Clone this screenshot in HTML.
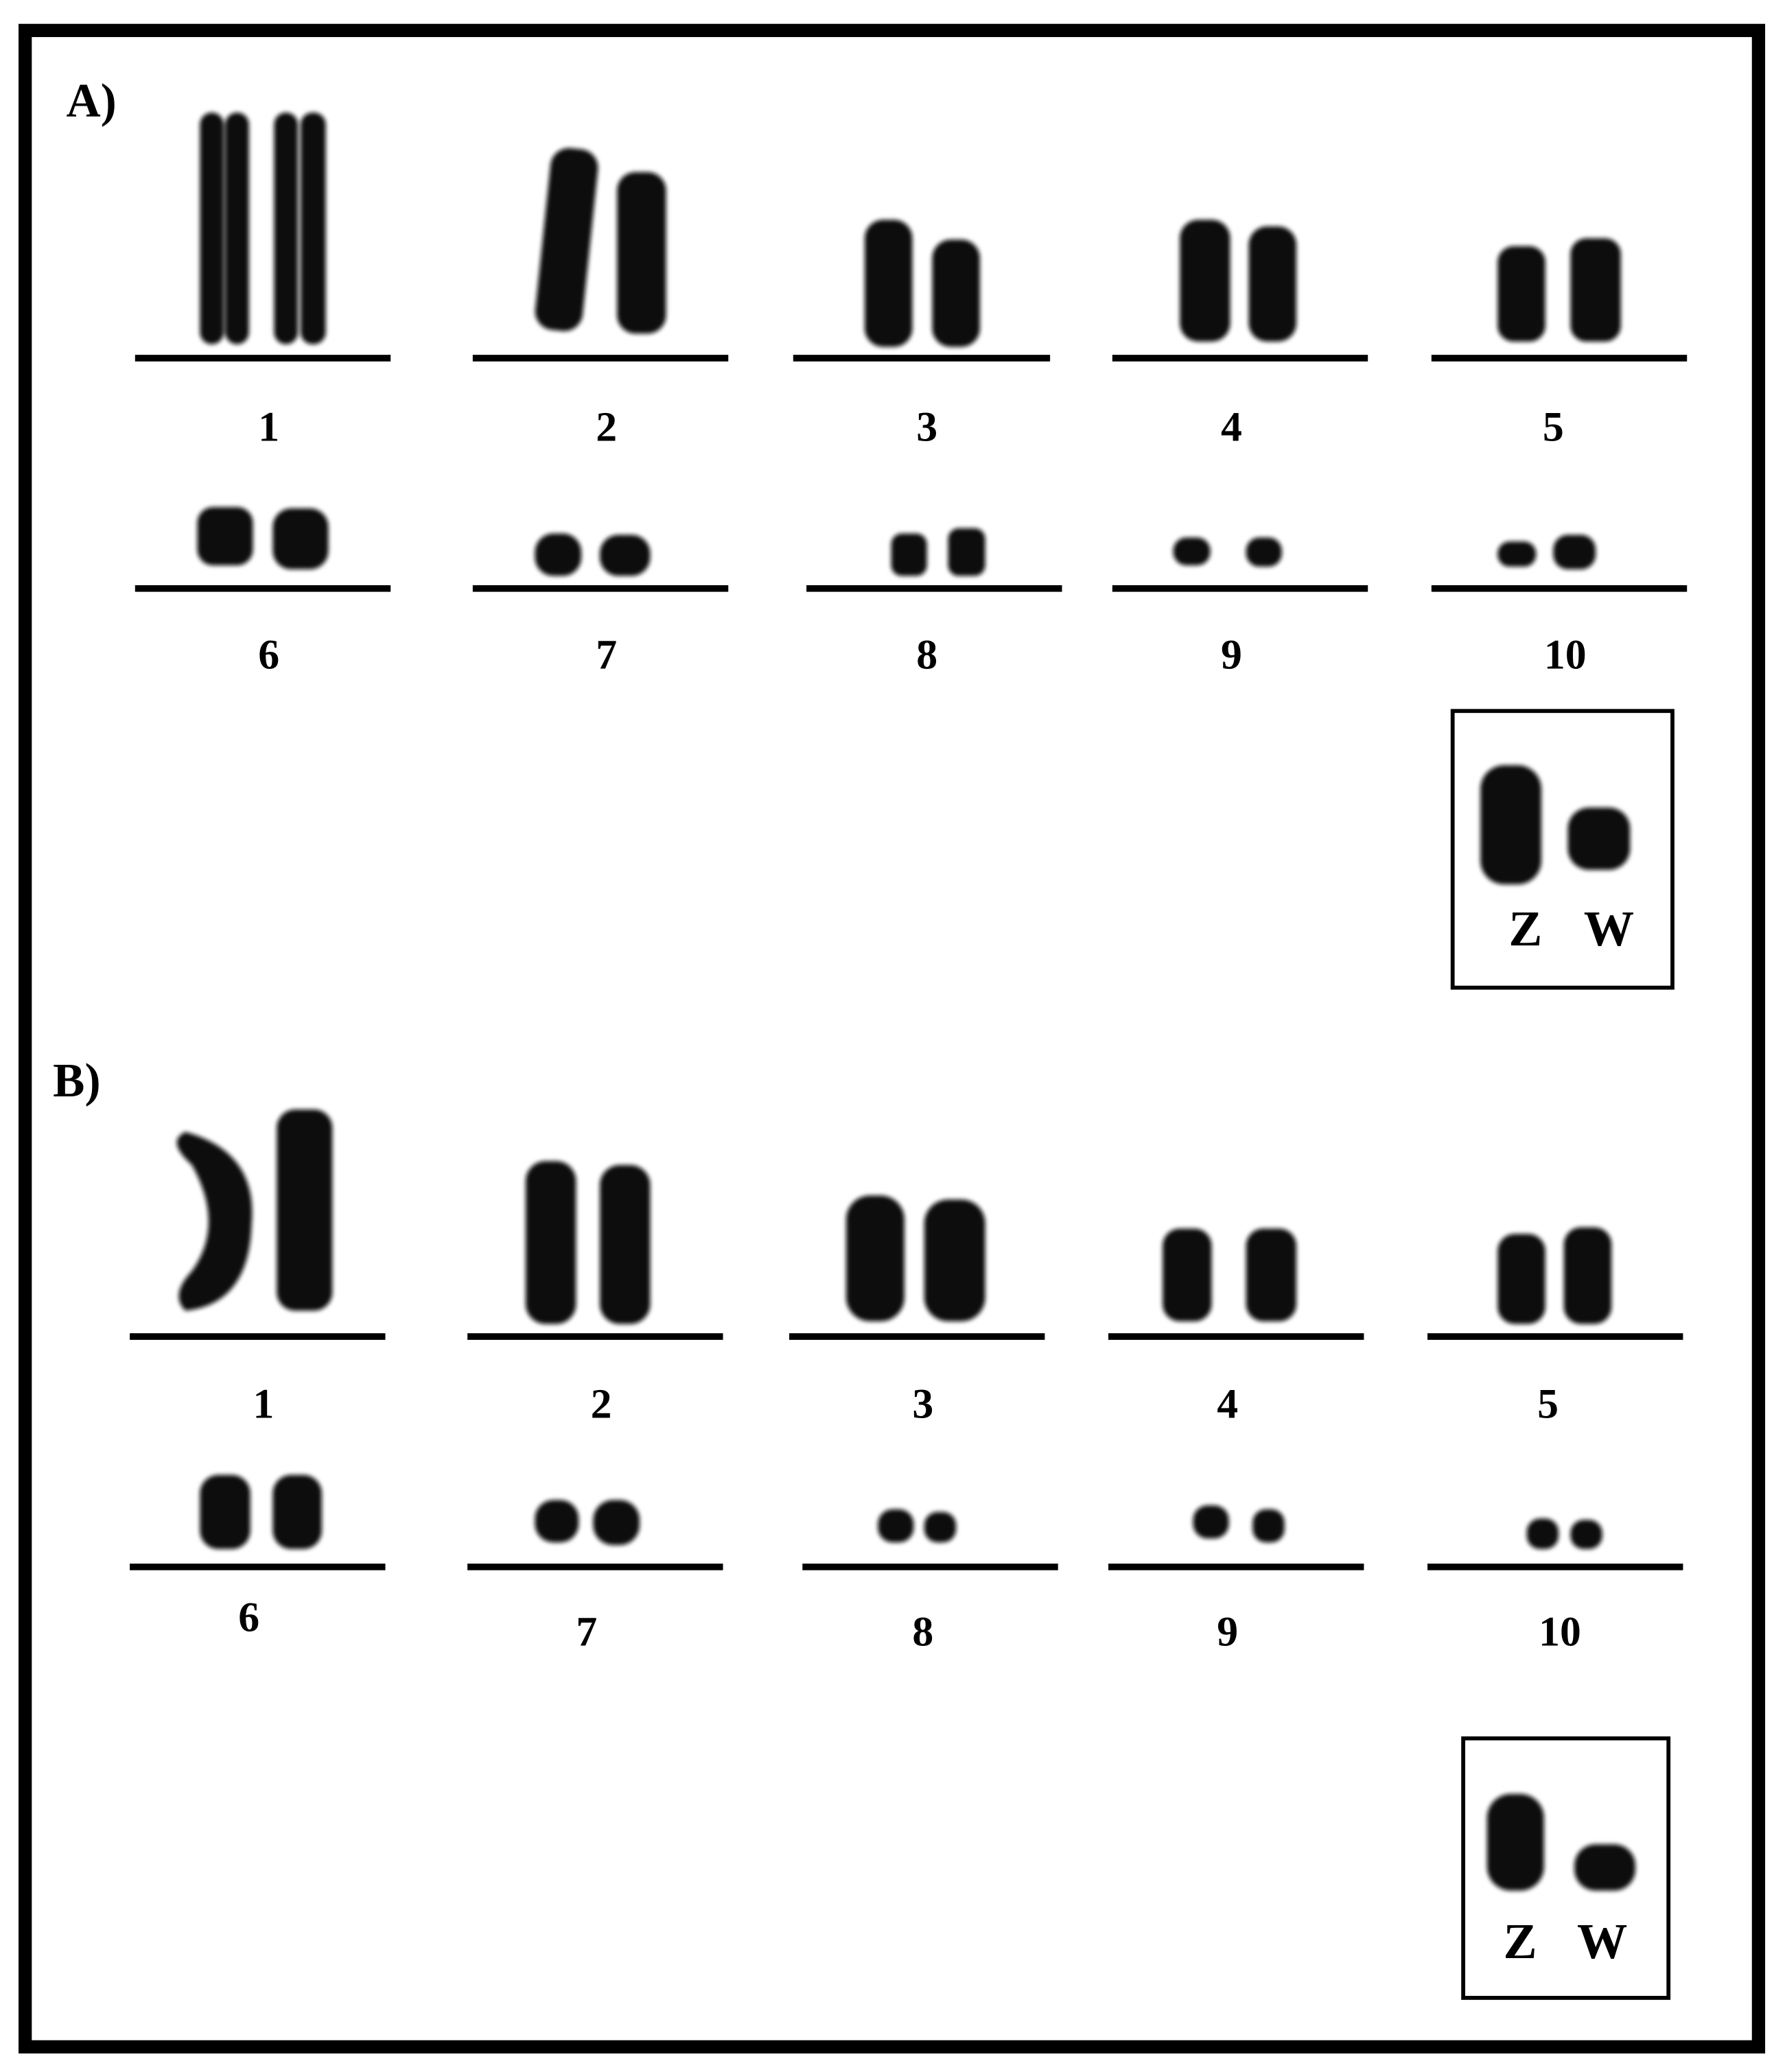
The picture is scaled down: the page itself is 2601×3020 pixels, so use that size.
<!DOCTYPE html>
<html><head><meta charset="utf-8"><style>html,body{margin:0;padding:0;background:#fff}svg{display:block}</style></head>
<body>
<svg width="2601" height="3020" viewBox="0 0 1348 1565" preserveAspectRatio="none" xmlns="http://www.w3.org/2000/svg">
<defs><filter id="b" x="-20%" y="-20%" width="140%" height="140%"><feGaussianBlur stdDeviation="1.6"/></filter></defs>
<rect x="0" y="0" width="1348" height="1565" fill="#fff"/>
<rect x="19" y="23" width="1309" height="1523" fill="none" stroke="#000" stroke-width="10"/>
<g font-family="Liberation Serif, serif" font-weight="bold" fill="#000">
<text x="50" y="88" font-size="36">A)</text>
<text x="40" y="828" font-size="36">B)</text>
<g font-size="32" text-anchor="middle">
<text x="203" y="333">1</text><text x="458" y="333">2</text><text x="700" y="333">3</text><text x="930" y="333">4</text><text x="1173" y="333">5</text>
<text x="203" y="505">6</text><text x="458" y="505">7</text><text x="700" y="505">8</text><text x="930" y="505">9</text><text x="1182" y="505">10</text>
<text x="199" y="1071">1</text><text x="454" y="1071">2</text><text x="697" y="1071">3</text><text x="927" y="1071">4</text><text x="1169" y="1071">5</text>
<text x="188" y="1232">6</text><text x="443" y="1243">7</text><text x="697" y="1243">8</text><text x="927" y="1243">9</text><text x="1178" y="1243">10</text>
<text x="1152" y="714" font-size="38">Z</text><text x="1215" y="714" font-size="38">W</text>
<text x="1148" y="1479" font-size="38">Z</text><text x="1210" y="1479" font-size="38">W</text>
</g></g>
<g fill="#000">
<rect x="102" y="268" width="193" height="5"/><rect x="357" y="268" width="193" height="5"/><rect x="599" y="268" width="194" height="5"/><rect x="840" y="268" width="193" height="5"/><rect x="1081" y="268" width="193" height="5"/>
<rect x="102" y="442" width="193" height="5"/><rect x="357" y="442" width="193" height="5"/><rect x="609" y="442" width="193" height="5"/><rect x="840" y="442" width="193" height="5"/><rect x="1081" y="442" width="193" height="5"/>
<rect x="98" y="1007" width="193" height="5"/><rect x="353" y="1007" width="193" height="5"/><rect x="596" y="1007" width="193" height="5"/><rect x="837" y="1007" width="193" height="5"/><rect x="1078" y="1007" width="193" height="5"/>
<rect x="98" y="1181" width="193" height="5"/><rect x="353" y="1181" width="193" height="5"/><rect x="606" y="1181" width="193" height="5"/><rect x="837" y="1181" width="193" height="5"/><rect x="1078" y="1181" width="193" height="5"/>
</g>
<rect x="1097" y="537" width="166" height="209" fill="none" stroke="#000" stroke-width="3"/>
<rect x="1105" y="1313" width="155" height="196" fill="none" stroke="#000" stroke-width="3"/>
<g fill="#111" filter="url(#b)">
<!-- A row1 -->
<rect x="151" y="85" width="18" height="175" rx="9"/><rect x="170" y="85" width="18" height="175" rx="9"/>
<rect x="207" y="85" width="18" height="175" rx="9"/><rect x="227" y="85" width="19" height="175" rx="9"/>
<rect x="410" y="112" width="36" height="138" rx="14" transform="rotate(6 428 180)"/>
<rect x="466" y="130" width="37" height="122" rx="14"/>
<rect x="653" y="166" width="36" height="96" rx="14"/><rect x="704" y="181" width="36" height="81" rx="14"/>
<rect x="891" y="166" width="38" height="92" rx="14"/><rect x="943" y="171" width="36" height="87" rx="14"/>
<rect x="1131" y="186" width="36" height="72" rx="12"/><rect x="1186" y="180" width="38" height="78" rx="12"/>
<!-- A row2 -->
<rect x="149" y="383" width="42" height="44" rx="12"/><rect x="206" y="384" width="42" height="46" rx="14"/>
<rect x="404" y="403" width="35" height="32" rx="14"/><rect x="453" y="404" width="38" height="31" rx="14"/>
<rect x="673" y="403" width="27" height="32" rx="8"/><rect x="716" y="399" width="28" height="36" rx="8"/>
<rect x="886" y="406" width="28" height="21" rx="10"/><rect x="941" y="406" width="27" height="22" rx="10"/>
<rect x="1131" y="409" width="29" height="19" rx="9"/><rect x="1173" y="404" width="32" height="26" rx="11"/>
<rect x="1118" y="578" width="46" height="90" rx="18"/><rect x="1184" y="610" width="47" height="47" rx="16"/>
<!-- B row1 -->
<path d="M140 855 Q195 870 190 925 Q188 985 140 990 Q128 978 145 960 Q170 925 145 880 Q125 862 140 855 Z"/>
<rect x="209" y="838" width="42" height="152" rx="14"/>
<rect x="397" y="877" width="38" height="123" rx="15"/><rect x="453" y="880" width="38" height="120" rx="15"/>
<rect x="639" y="903" width="44" height="95" rx="18"/><rect x="698" y="906" width="46" height="92" rx="18"/>
<rect x="878" y="928" width="37" height="70" rx="13"/><rect x="941" y="928" width="38" height="70" rx="13"/>
<rect x="1131" y="932" width="36" height="68" rx="13"/><rect x="1181" y="927" width="36" height="73" rx="13"/>
<!-- B row2 -->
<rect x="151" y="1114" width="38" height="56" rx="14"/><rect x="206" y="1114" width="37" height="56" rx="14"/>
<rect x="404" y="1133" width="33" height="32" rx="14"/><rect x="448" y="1133" width="35" height="34" rx="15"/>
<rect x="663" y="1140" width="27" height="25" rx="11"/><rect x="698" y="1142" width="24" height="23" rx="10"/>
<rect x="901" y="1137" width="27" height="25" rx="11"/><rect x="946" y="1140" width="24" height="25" rx="10"/>
<rect x="1153" y="1147" width="24" height="23" rx="10"/><rect x="1186" y="1148" width="24" height="22" rx="10"/>
<rect x="1123" y="1355" width="43" height="73" rx="18"/><rect x="1189" y="1393" width="46" height="35" rx="16"/>
</g>
</svg>
</body></html>
